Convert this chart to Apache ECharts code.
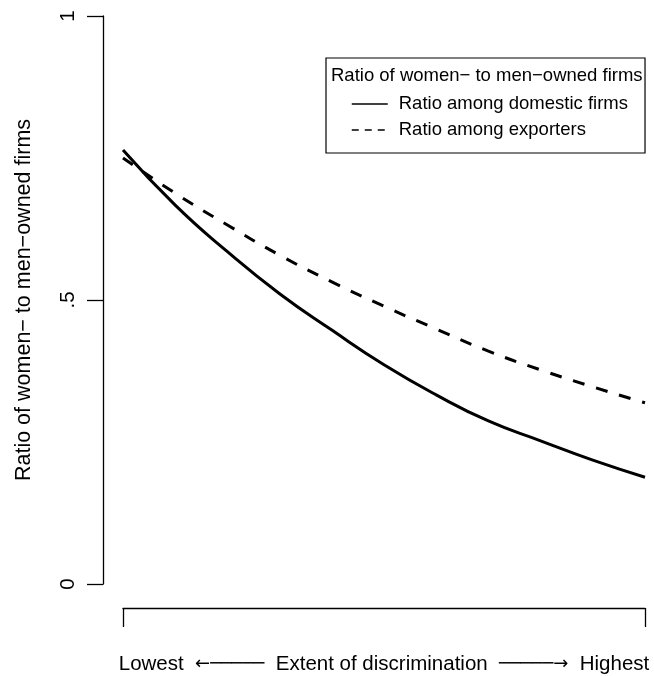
<!DOCTYPE html>
<html>
<head>
<meta charset="utf-8">
<script src="https://cdn.jsdelivr.net/npm/echarts@6/dist/echarts.min.js"></script>
<style>
  html, body { margin: 0; padding: 0; background: #fff; }
  #chart { width: 654px; height: 676px; }
</style>
</head>
<body>
<div id="chart"></div>
<script>
// extent of discrimination, 0 = lowest, 1 = highest
const xs = [0, 0.1, 0.2, 0.3, 0.4, 0.5, 0.6, 0.7, 0.8, 0.9, 1];
const domestic = [0.764, 0.667, 0.585, 0.511, 0.447, 0.386, 0.333, 0.287, 0.252, 0.218, 0.188];
const exporters = [0.750, 0.688, 0.632, 0.579, 0.532, 0.489, 0.449, 0.410, 0.377, 0.347, 0.319];
const yTicks = { 0: '0', 0.5: '.5', 1: '1' };

const font = 'Liberation Sans, Arial, Helvetica, sans-serif';
const fs = 20.5;     // axis text
const legFs = 18.5;  // legend text

const myChart = echarts.init(document.getElementById('chart'));

const pairs = (ys) => xs.map((x, i) => [x, ys[i]]);

const option = {
    animation: false,
    backgroundColor: '#fff',
    textStyle: { fontFamily: font, color: '#000' },
    title: {
        text: 'Ratio of women\u2212 to men\u2212owned firms',
        left: 331,
        top: 66,
        padding: 0,
        textStyle: { fontFamily: font, fontSize: legFs, fontWeight: 'normal', color: '#000' }
    },
    legend: {
        orient: 'vertical',
        left: 326,
        top: 58,
        padding: [36, 17, 13, 25],
        borderColor: '#000',
        borderWidth: 1.2,
        itemWidth: 36,
        itemHeight: 14,
        itemGap: 6,
        itemStyle: { opacity: 0 },
        textStyle: { fontFamily: font, fontSize: legFs, lineHeight: 20, color: '#000', padding: [0, 0, 0, 6] },
        data: [
            { name: 'Ratio among domestic firms', lineStyle: { width: 1.5, type: 'solid' } },
            { name: 'Ratio among exporters', lineStyle: { width: 1.5, type: [7, 6] } }
        ]
    },
    grid: { left: 123, right: 9, top: 16, bottom: 92, outerBoundsMode: 'none', containLabel: false },
    xAxis: {
        type: 'value',
        min: 0,
        max: 1,
        interval: 1,
        offset: 24,
        axisLine: { show: true, onZero: false, lineStyle: { color: '#000', width: 1.3 } },
        axisTick: { show: true, length: 19, lineStyle: { color: '#000', width: 1.3 } },
        axisLabel: { show: false },
        splitLine: { show: false },
        name: '{t|Lowest}  {a|\u2190\u2500\u2500\u2500\u2500\u2500}  {t|Extent of discrimination}  {a|\u2500\u2500\u2500\u2500\u2500\u2192}  {t|Highest}',
        nameLocation: 'middle',
        nameGap: 46,
        nameTextStyle: {
            fontFamily: font, fontSize: fs, color: '#000',
            rich: {
                t: { fontFamily: font, fontSize: fs, color: '#000' },
                a: { fontFamily: 'DejaVu Sans', fontSize: 18, color: '#000' }
            }
        }
    },
    yAxis: {
        type: 'value',
        min: 0,
        max: 1,
        interval: 0.5,
        offset: 20,
        axisLine: { show: true, onZero: false, lineStyle: { color: '#000', width: 1.3 } },
        axisTick: { show: true, length: 16, lineStyle: { color: '#000', width: 1.3 } },
        axisLabel: {
            rotate: 90,
            margin: 24,
            fontSize: fs,
            color: '#000',
            fontFamily: font,
            formatter: (v) => yTicks[v] !== undefined ? yTicks[v] : ''
        },
        splitLine: { show: false },
        name: 'Ratio of women\u2212 to men\u2212owned firms',
        nameLocation: 'middle',
        nameGap: 68,
        nameTextStyle: { fontFamily: font, fontSize: 21.5, color: '#000' }
    },
    series: [
        {
            name: 'Ratio among domestic firms',
            type: 'line',
            smooth: true,
            symbol: 'none',
            lineStyle: { color: '#000', width: 3 },
            itemStyle: { color: '#000' },
            data: pairs(domestic)
        },
        {
            name: 'Ratio among exporters',
            type: 'line',
            smooth: true,
            symbol: 'none',
            lineStyle: { color: '#000', width: 3, type: [12, 12] },
            itemStyle: { color: '#000' },
            data: pairs(exporters)
        }
    ]
};

option && myChart.setOption(option);
</script>
</body>
</html>
